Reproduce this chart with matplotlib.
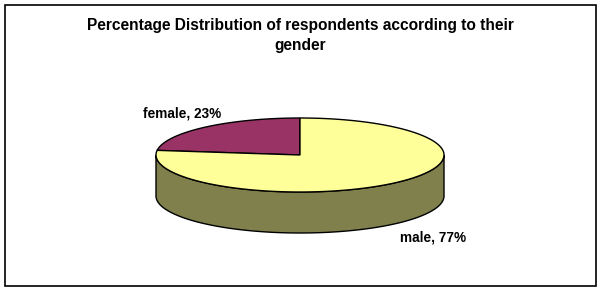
import matplotlib.pyplot as plt
import matplotlib.patches as mpatches
import numpy as np

labels = ['female', 'male']
shares = [23, 77]
colors = ['#993366', '#FFFF99']
side_colors = ['#4D1F33', '#80804D']
title = 'Percentage Distribution of respondents according to their\ngender'

plt.rcParams['font.family'] = ['Liberation Sans', 'DejaVu Sans']

fig = plt.figure(figsize=(6.02, 2.92), dpi=100)
ax = fig.add_axes([0, 0, 1, 1])
ax.set_xlim(0, 602)
ax.set_ylim(292, 0)
ax.axis('off')

# outer frame
ax.add_patch(mpatches.Rectangle((5, 5), 591, 281, fill=False, ec='black', lw=1.2))

cx, cy, rx, ry, depth = 300, 155, 144, 37, 41


def pt(theta, dy=0.0):
    t = np.radians(theta)
    return cx + rx * np.cos(t), cy - ry * np.sin(t) + dy


# slice angles (counter-clockwise from 12 o'clock)
starts = [90.0]
for s in shares[:-1]:
    starts.append(starts[-1] + s / 100 * 360)
ends = [a + s / 100 * 360 for a, s in zip(starts, shares)]

# visible front side (180..360)
for st, en, sc in zip(starts, ends, side_colors):
    for off in (0, 360):
        lo = max(st - off, 180)
        hi = min(en - off, 360)
        if hi > lo:
            th = np.linspace(lo, hi, 200)
            x, y = pt(th)
            xb, yb = pt(th[::-1], depth)
            poly = np.column_stack([np.r_[x, xb], np.r_[y, yb]])
            ax.add_patch(mpatches.Polygon(poly, closed=True, fc=sc, ec='black', lw=1.0))

# top faces
for st, en, c in zip(starts, ends, colors):
    th = np.linspace(st, en, 300)
    x, y = pt(th)
    poly = np.column_stack([np.r_[cx, x], np.r_[cy, y]])
    ax.add_patch(mpatches.Polygon(poly, closed=True, fc=c, ec='black', lw=1.0))

ax.text(300, 35.5, title, ha='center', va='center', fontsize=11.2, fontweight='bold',
        linespacing=1.35)
ax.text(182, 114, f'{labels[0]}, {shares[0]}%', ha='center', va='center',
        fontsize=9.8, fontweight='bold')
ax.text(433.5, 237, f'{labels[1]}, {shares[1]}%', ha='center', va='center',
        fontsize=9.8, fontweight='bold')

fig.savefig('out.png', dpi=100)
